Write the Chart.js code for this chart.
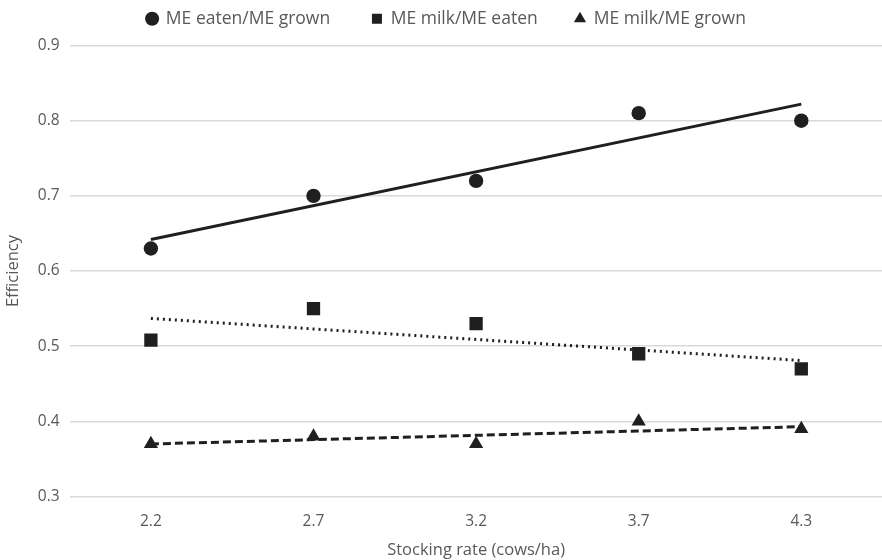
<!DOCTYPE html>
<html>
<head>
<meta charset="utf-8">
<script src="https://cdn.jsdelivr.net/npm/chart.js@4.4.1/dist/chart.umd.min.js"></script>
<style>
  html, body { margin: 0; padding: 0; background: #fff; overflow: hidden; }
  #wrap { width: 892px; height: 560px; }
</style>
</head>
<body>
<div id="wrap"><canvas id="effChart"></canvas></div>
<script>
const stockingRates = ["2.2", "2.7", "3.2", "3.7", "4.3"];
const eatenPerGrown = [0.63, 0.70, 0.72, 0.81, 0.80];
const milkPerEaten = [0.508, 0.55, 0.53, 0.49, 0.47];
const milkPerGrown = [0.37, 0.38, 0.37, 0.40, 0.39];
// trendline ends (first and last category)
const trendEatenPerGrown = [0.642, null, null, null, 0.822];
const trendMilkPerEaten = [0.537, null, null, null, 0.481];
const trendMilkPerGrown = [0.370, null, null, null, 0.393];

const ink = "#1f1f1f";
const grey = "#595959";
// extra room after each legend entry, Excel spaces them unevenly
const legendTail = ["       ", "      ", ""];
Chart.defaults.font.family = "'Open Sans', sans-serif";

function points(label, data, style, radius) {
  return {
    label, data, showLine: false,
    pointStyle: style, pointRadius: radius, pointHoverRadius: radius,
    pointBackgroundColor: ink, pointBorderColor: ink, pointBorderWidth: 0,
    backgroundColor: ink, borderColor: ink, order: 1
  };
}
function trend(data, dash) {
  return {
    label: "trend", data, spanGaps: true, pointRadius: 0,
    borderColor: ink, borderWidth: 3, borderDash: dash, fill: false, order: 2
  };
}

// push the plot down a bit below the legend
const legendGap = {
  id: "legendGap",
  beforeLayout(chart) {
    const lg = chart.legend;
    if (lg && !lg._gapDone) {
      const fit = lg.fit;
      lg.fit = function () { fit.call(this); this.height += 8; };
      lg._gapDone = true;
    }
  }
};

const ctx = document.getElementById("effChart").getContext("2d");
new Chart(ctx, {
  type: "line",
  data: {
    labels: stockingRates,
    datasets: [
      points("ME eaten/ME grown", eatenPerGrown, "circle", 7.2),
      points("ME milk/ME eaten", milkPerEaten, "rect", 9.4),
      points("ME milk/ME grown", milkPerGrown, "triangle", 8.2),
      trend(trendEatenPerGrown, []),
      trend(trendMilkPerEaten, [2, 4]),
      trend(trendMilkPerGrown, [8, 4])
    ]
  },
  plugins: [legendGap],
  options: {
    responsive: true,
    maintainAspectRatio: false,
    animation: false,
    layout: { padding: { left: 3, right: 2, top: 0, bottom: 0 } },
    plugins: {
      tooltip: { enabled: false },
      legend: {
        position: "top",
        labels: {
          usePointStyle: true,
          boxWidth: 10, boxHeight: 10,
          color: grey,
          font: { size: 17.5 },
          padding: 10,
          generateLabels: chart =>
            Chart.defaults.plugins.legend.labels.generateLabels(chart).map(l => {
              if (l.datasetIndex < legendTail.length) l.text += legendTail[l.datasetIndex];
              return l;
            }),
          filter: item => item.text !== "trend"
        }
      }
    },
    scales: {
      x: {
        offset: true,
        grid: { display: false },
        border: { display: false },
        ticks: { color: grey, font: { size: 15.5 }, padding: 8 },
        title: { display: true, text: "Stocking rate (cows/ha)", color: grey, font: { size: 16.5 }, padding: { top: 1, bottom: 0 } }
      },
      y: {
        min: 0.3, max: 0.9,
        grid: { color: "#d9d9d9", lineWidth: 1.5, drawTicks: false },
        border: { display: false },
        ticks: { stepSize: 0.1, color: grey, font: { size: 15.5 }, padding: 10, callback: v => v.toFixed(1) },
        title: { display: true, text: "Efficiency", color: grey, font: { size: 16.5 }, padding: { top: 0, bottom: 5 } }
      }
    }
  }
});
</script>
</body>
</html>
